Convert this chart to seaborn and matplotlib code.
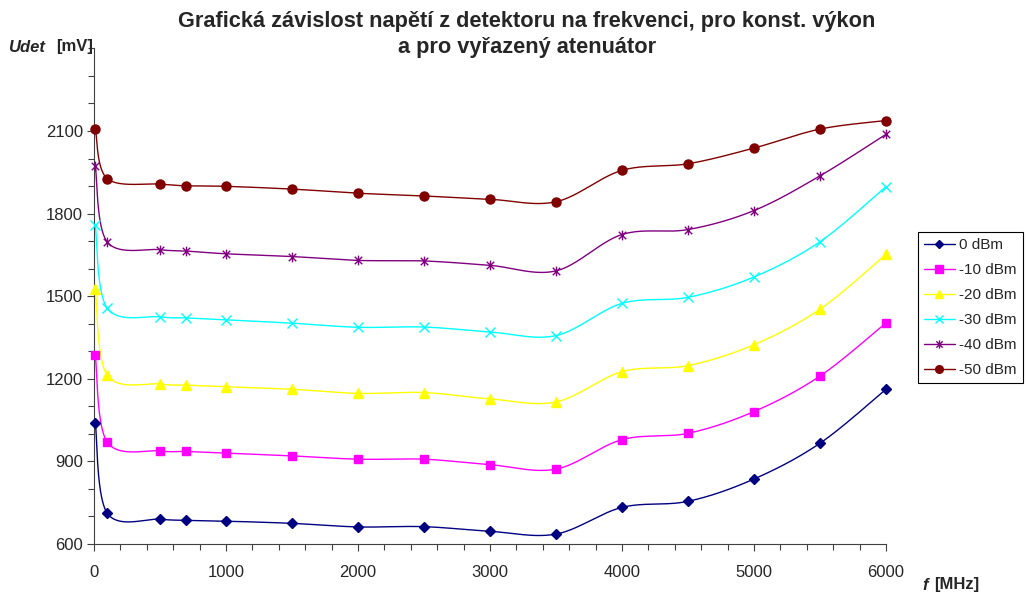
import numpy as np
import pandas as pd
import matplotlib
matplotlib.use("Agg")
import matplotlib.pyplot as plt
from matplotlib.path import Path
from matplotlib.lines import Line2D
from matplotlib.ticker import MultipleLocator
import seaborn as sns

# Frequency of each measurement [MHz]
freq = [10, 100, 500, 700, 1000, 1500, 2000, 2500, 3000, 3500, 4000, 4500, 5000, 5500, 6000]

# Detector voltage [mV] for each input power level
u_0dbm = [1040, 712, 690, 686, 683, 675, 662, 663, 646, 636, 733, 755, 836, 966, 1162]
u_m10dbm = [1285, 970, 938, 936, 930, 920, 908, 908, 888, 872, 979, 1002, 1081, 1210, 1403]
u_m20dbm = [1526, 1213, 1181, 1177, 1171, 1162, 1147, 1150, 1127, 1116, 1226, 1248, 1324, 1453, 1652]
u_m30dbm = [1759, 1456, 1425, 1421, 1414, 1402, 1387, 1388, 1370, 1357, 1474, 1496, 1570, 1698, 1898]
u_m40dbm = [1973, 1697, 1669, 1664, 1654, 1644, 1630, 1628, 1612, 1592, 1724, 1742, 1811, 1937, 2088]
u_m50dbm = [2108, 1927, 1907, 1901, 1899, 1889, 1874, 1864, 1852, 1843, 1957, 1981, 2038, 2107, 2138]

series_names = ["0 dBm", "-10 dBm", "-20 dBm", "-30 dBm", "-40 dBm", "-50 dBm"]
series_vals = [u_0dbm, u_m10dbm, u_m20dbm, u_m30dbm, u_m40dbm, u_m50dbm]
colors = ["#000080", "#FF00FF", "#FFFF00", "#00FFFF", "#800080", "#800000"]

# Star marker: an "x" with a vertical bar through it
star = Path(
    [(-1, -1), (1, 1), (-1, 1), (1, -1), (0, -1.3), (0, 1.3)],
    [Path.MOVETO, Path.LINETO, Path.MOVETO, Path.LINETO, Path.MOVETO, Path.LINETO],
)
markers = ["D", "s", "^", "x", star, "o"]
msizes = [5, 6, 7, 7, 7, 6.5]


def smooth_curve(x, y, n=40):
    """Piecewise cubic Bezier through the points (spreadsheet-style smoothing)."""
    x = np.asarray(x, float)
    y = np.asarray(y, float)
    pts = np.column_stack([x, y])
    out = []
    m = len(pts)
    t = np.linspace(0, 1, n)[:, None]
    for i in range(m - 1):
        p0 = pts[i - 1] if i > 0 else pts[i]
        p1 = pts[i]
        p2 = pts[i + 1]
        p3 = pts[i + 2] if i + 2 < m else pts[i + 1]
        c1 = p1 + (p2 - p0) / 6.0
        c2 = p2 - (p3 - p1) / 6.0
        seg = ((1 - t) ** 3) * p1 + 3 * ((1 - t) ** 2) * t * c1 + 3 * (1 - t) * t ** 2 * c2 + t ** 3 * p2
        out.append(seg if i == 0 else seg[1:])
    seg = np.vstack(out)
    return seg[:, 0], seg[:, 1]


sns.set_style("ticks")
plt.rcParams["font.family"] = ["Liberation Sans", "DejaVu Sans"]

fig = plt.figure(figsize=(10.26, 5.97), dpi=100)
ax = fig.add_axes([94 / 1026, 1 - 544 / 597, 792 / 1026, (544 - 48.4) / 597])

handles = []
for name, vals, c, mk, ms in zip(series_names, series_vals, colors, markers, msizes):
    sx, sy = smooth_curve(freq, vals)
    df = pd.DataFrame({"f": sx, "u": sy})
    sns.lineplot(data=df, x="f", y="u", color=c, lw=1.0, sort=False,
                 estimator=None, ax=ax, legend=False)
    ax.plot(freq, vals, linestyle="none", marker=mk, markersize=ms, color=c,
            markeredgecolor=c, markeredgewidth=1.0, clip_on=False, zorder=3)
    handles.append(Line2D([], [], color=c, lw=1.0, marker=mk, markersize=ms * 0.85,
                          markeredgecolor=c, markeredgewidth=1.0))

ax.set_xlim(0, 6000)
ax.set_ylim(600, 2400)
ax.xaxis.set_major_locator(MultipleLocator(1000))
ax.xaxis.set_minor_locator(MultipleLocator(200))
ax.yaxis.set_major_locator(MultipleLocator(300))
ax.yaxis.set_minor_locator(MultipleLocator(100))
ax.set_yticks([600, 900, 1200, 1500, 1800, 2100])
ax.tick_params(axis="both", which="major", direction="out", length=5, width=0.8,
               labelsize=12, color="#404040")
ax.tick_params(axis="x", which="major", pad=10)
ax.tick_params(axis="y", which="major", pad=3)
ax.tick_params(axis="both", which="minor", direction="out", length=4, width=0.8,
               color="#404040")
ax.set_xlabel("")
ax.set_ylabel("")
sns.despine(ax=ax)
for s in ["left", "bottom"]:
    ax.spines[s].set_color("#404040")
    ax.spines[s].set_linewidth(0.8)

fig.text(527 / 1026, 1 - 21 / 597,
         "Grafická závislost napětí z detektoru na frekvenci, pro konst. výkon",
         ha="center", va="center", fontsize=15.7, fontweight="bold")
fig.text(527 / 1026, 1 - 47 / 597, "a pro vyřazený atenuátor",
         ha="center", va="center", fontsize=15.7, fontweight="bold")

fig.text(8 / 1026, 1 - 47 / 597, "Udet", ha="left", va="center", fontsize=12,
         fontweight="bold", fontstyle="italic")
fig.text(56 / 1026, 1 - 47 / 597, "[mV]", ha="left", va="center", fontsize=12,
         fontweight="bold")
fig.text(922 / 1026, 1 - 585 / 597, "f", ha="left", va="center", fontsize=12,
         fontweight="bold", fontstyle="italic")
fig.text(934 / 1026, 1 - 585 / 597, "[MHz]", ha="left", va="center", fontsize=12,
         fontweight="bold")

leg = fig.legend(handles, series_names, loc="upper left",
                 bbox_to_anchor=(918 / 1026, 1 - 232 / 597), fontsize=11,
                 frameon=True, fancybox=False, edgecolor="black", framealpha=1,
                 handlelength=2.0, handletextpad=0.3, labelspacing=0.72,
                 borderpad=0.4, borderaxespad=0)
leg.get_frame().set_linewidth(0.8)

fig.savefig("out.png", dpi=100)
